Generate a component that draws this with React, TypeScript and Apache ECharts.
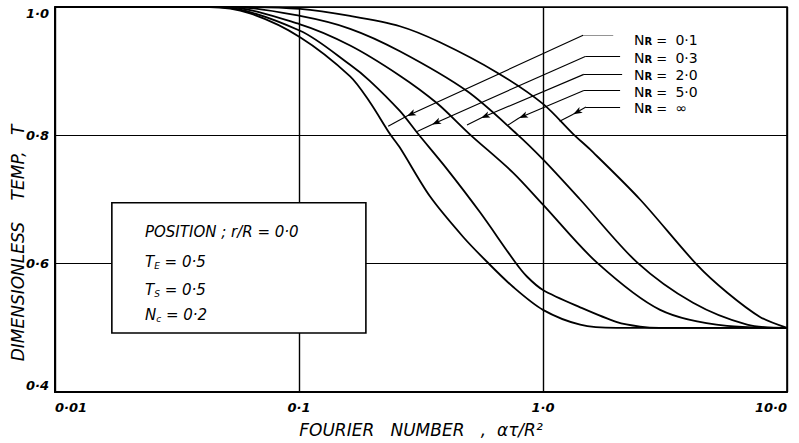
import React, { useEffect, useRef } from "react";
import * as echarts from "echarts";

// ---- tick labels ----
const xTickValues = [0.01, 0.1, 1, 10];
const xTickLabels = ["0·01", "0·1", "1·0", "10·0"];
const yTickValues = [0.4, 0.6, 0.8, 1.0];
const yTickLabels = ["0·4", "0·6", "0·8", "1·0"];

// ---- series names ----
const nrValues = ["0·1", "0·3", "2·0", "5·0", "∞"];

// ---- curves: [Fourier number, T] ----
const curveNR01 = [
  [0.01, 1.0], [0.043, 1.0], [0.063, 0.99], [0.101, 0.953], [0.162, 0.892],
  [0.195, 0.852], [0.236, 0.802], [0.259, 0.781], [0.344, 0.705], [0.47, 0.642],
  [0.589, 0.603], [0.753, 0.564], [1.0, 0.528], [1.42, 0.505], [2.0, 0.5], [10, 0.5],
];
const curveNR03 = [
  [0.01, 1.0], [0.047, 1.0], [0.101, 0.963], [0.162, 0.91], [0.195, 0.885],
  [0.259, 0.838], [0.308, 0.802], [0.405, 0.747], [0.552, 0.68], [0.767, 0.603],
  [0.859, 0.58], [1.0, 0.559], [1.42, 0.532], [2.01, 0.509], [2.5, 0.502], [3.0, 0.5], [10, 0.5],
];
const curveNR20 = [
  [0.01, 1.0], [0.05, 1.0], [0.101, 0.973], [0.162, 0.94], [0.259, 0.893],
  [0.368, 0.85], [0.5, 0.802], [0.753, 0.742], [1.0, 0.692],
  [1.66, 0.602], [3.02, 0.528], [5.68, 0.503], [10, 0.5],
];
const curveNR50 = [
  [0.01, 1.0], [0.055, 1.0], [0.101, 0.986], [0.162, 0.966], [0.259, 0.931],
  [0.488, 0.869], [0.782, 0.802], [1.0, 0.7625], [1.42, 0.7],
  [2.43, 0.602], [4.12, 0.539], [6.86, 0.505], [10, 0.5],
];
const curveNRinf = [
  [0.01, 1.0], [0.06, 1.0], [0.101, 0.997], [0.162, 0.986], [0.259, 0.97],
  [0.378, 0.945], [0.647, 0.898], [1.0, 0.849], [1.33, 0.802], [1.56, 0.778],
  [2.5, 0.7], [4.28, 0.598], [5.68, 0.555], [7.75, 0.517], [10, 0.5],
];
const curves = [curveNR01, curveNR03, curveNR20, curveNR50, curveNRinf];

// ---- leader lines (label end, elbow, arrow tip, curve contact), data coords ----
const leaderNR01 = [[1.94, 0.956], [1.46, 0.956], [0.277, 0.83], [0.232, 0.814]];
const leaderNR03 = [[2.07, 0.923], [1.49, 0.923], [0.351, 0.817], [0.305, 0.806]];
const leaderNR20 = [[2.11, 0.895], [1.47, 0.895], [0.557, 0.827], [0.488, 0.816]];
const leaderNR50 = [[2.07, 0.87], [1.47, 0.87], [0.797, 0.827], [0.719, 0.816]];
const leaderNRinf = [[2.07, 0.844], [1.5, 0.844], [1.33, 0.833], [1.17, 0.822]];
const leaders = [leaderNR01, leaderNR03, leaderNR20, leaderNR50, leaderNRinf];

// ---- parameter box ----
const boxCorners = [[0.0171, 0.695], [0.188, 0.492]];

const FONT = "DejaVu Sans";

export default function App() {
  const ref = useRef<HTMLDivElement>(null);
  useEffect(() => {
    document.body.style.margin = "0";
    const chart = echarts.init(ref.current!, null, { renderer: "svg" });

    const series: any[] = curves.map((c, i) => {
      const L = leaders[i];
      const s: any = {
        type: "line",
        name: "NR = " + nrValues[i],
        data: c,
        showSymbol: false,
        smooth: 0.3,
        silent: true,
        lineStyle: { color: "#000", width: 1.8 },
        z: 3,
        markLine: {
          silent: true,
          animation: false,
          label: { show: false },
          symbol: ["none", "none"],
          symbolSize: [5, 9],
          lineStyle: { color: "#000", width: 1.1, type: "solid" },
          emphasis: { disabled: true },
          data: [
            [
              { coord: L[0], symbol: "none", lineStyle: i === 0 ? { color: "#888", width: 0.9 } : undefined },
              { coord: L[1], symbol: "none" },
            ],
            [
              { coord: L[1], symbol: "none" },
              { coord: L[2], symbol: "arrow", symbolSize: [5, 9] },
            ],
            [
              { coord: L[2], symbol: "none" },
              { coord: L[3], symbol: "none" },
            ],
          ],
        },
      };
      if (i === 0) {
        s.markArea = {
          silent: true,
          itemStyle: { color: "#fff", borderColor: "#000", borderWidth: 1.6 },
          label: { show: false },
          emphasis: { disabled: true },
          data: [[{ coord: boxCorners[0] }, { coord: boxCorners[1] }]],
        };
      }
      return s;
    });

    const legendRowsY = [40, 58, 75, 92, 108];
    const legendTexts = nrValues.map((v, i) => ({
      type: "text",
      x: 634,
      y: legendRowsY[i],
      silent: true,
      style: {
        text: "{n|N}{r|R} =  {v|" + v + "}",
        verticalAlign: "middle",
        align: "left",
        fill: "#000",
        rich: {
          n: { fontSize: 14, fontFamily: FONT, fill: "#000" },
          r: { fontSize: 10, fontFamily: FONT, fill: "#000", fontWeight: "bold", padding: [3, 0, 0, 0] },
          v: { fontSize: 14, fontFamily: FONT, fill: "#000" },
        },
        fontSize: 13,
        fontFamily: FONT,
      },
    }));

    const boxRich = {
      b: { fontSize: 15, fontFamily: FONT, fontStyle: "italic", fill: "#000" },
      s: { fontSize: 9, fontFamily: FONT, fontStyle: "italic", fill: "#000", padding: [8, 0, 0, 0] },
    };
    const boxRowsY = [232, 262, 290, 315];
    const boxTexts = [
      "{b|POSITION ; r/R = 0·0}",
      "{b|T}{s|E}{b| = 0·5}",
      "{b|T}{s|S}{b| = 0·5}",
      "{b|N}{s|c}{b| = 0·2}",
    ].map((t, i) => ({
      type: "text",
      x: 145,
      y: boxRowsY[i],
      silent: true,
      z: 10,
      style: { text: t, rich: boxRich, verticalAlign: "middle", align: "left", fill: "#000" },
    }));

    chart.setOption({
      animation: false,
      backgroundColor: "#fff",
      grid: {
        left: 55,
        right: 12,
        top: 7,
        bottom: 51,
        show: true,
        borderColor: "#000",
        borderWidth: 1.6,
        backgroundColor: "transparent",
      },
      xAxis: {
        type: "log",
        logBase: 10,
        min: 0.01,
        max: 10,
        name: "FOURIER   NUMBER   ,  ατ/R²",
        nameLocation: "middle",
        nameGap: 29,
        nameTextStyle: { fontFamily: FONT, fontStyle: "italic", fontSize: 17, color: "#000" },
        axisLine: { show: true, lineStyle: { color: "#000", width: 2 } },
        axisTick: { show: false },
        axisLabel: {
          color: "#000",
          fontFamily: FONT,
          fontStyle: "italic",
          fontWeight: "bold",
          fontSize: 13,
          margin: 9,
          alignMinLabel: "left",
          alignMaxLabel: "right",
          formatter: (v: number) => {
            const idx = xTickValues.findIndex((t) => Math.abs(Math.log10(t) - Math.log10(v)) < 1e-6);
            return idx >= 0 ? xTickLabels[idx] : "";
          },
        },
        splitLine: { show: true, lineStyle: { color: "#000", width: 1.4 } },
        minorSplitLine: { show: false },
      },
      yAxis: {
        type: "value",
        min: 0.4,
        max: 1.0,
        interval: 0.2,
        axisLine: { show: true, lineStyle: { color: "#000", width: 2 } },
        axisTick: { show: false },
        axisLabel: {
          color: "#000",
          fontFamily: FONT,
          fontStyle: "italic",
          fontWeight: "bold",
          fontSize: 13,
          margin: 6,
          verticalAlignMaxLabel: "top",
          verticalAlignMinLabel: "bottom",
          formatter: (v: number) => {
            const idx = yTickValues.findIndex((t) => Math.abs(t - v) < 1e-6);
            return idx >= 0 ? yTickLabels[idx] : "";
          },
        },
        splitLine: { show: true, lineStyle: { color: "#000", width: 1.2 } },
      },
      series,
      graphic: [
        {
          type: "text",
          x: 18,
          y: 243,
          rotation: Math.PI / 2,
          silent: true,
          style: {
            text: "DIMENSIONLESS    TEMP,   T",
            fontFamily: FONT,
            fontStyle: "italic",
            fontSize: 17,
            fill: "#000",
            align: "center",
            verticalAlign: "middle",
          },
        },
        ...legendTexts,
        ...boxTexts,
      ],
    });
    return () => chart.dispose();
  }, []);
  return <div ref={ref} style={{ width: 799, height: 443 }} />;
}
